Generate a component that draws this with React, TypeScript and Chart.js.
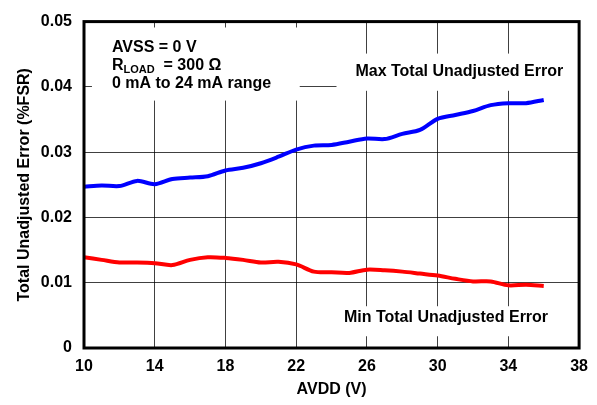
import React, { useEffect, useRef } from "react";
import { Chart, registerables } from "chart.js";

Chart.register(...registerables);

const avdd = [10, 11, 12, 13, 14, 15, 16, 17, 18, 19, 20, 21, 22, 23, 24, 25, 26, 27, 28, 29, 30, 31, 32, 33, 34, 35, 36];
const maxTue = [0.0247, 0.0249, 0.0248, 0.0256, 0.0251, 0.0259, 0.0261, 0.0263, 0.0272, 0.0276, 0.0283, 0.0293, 0.0304, 0.0310, 0.0311, 0.0316, 0.0321, 0.0320, 0.0328, 0.0334, 0.0351, 0.0357, 0.0363, 0.0372, 0.0375, 0.0375, 0.0380];
const minTue = [0.0139, 0.0135, 0.0131, 0.0131, 0.0130, 0.0127, 0.0135, 0.0139, 0.0138, 0.0135, 0.0131, 0.0132, 0.0128, 0.0117, 0.0116, 0.0115, 0.0120, 0.0119, 0.0117, 0.0114, 0.0111, 0.0106, 0.0102, 0.0102, 0.0096, 0.0097, 0.0095];
const xTickStep = 4;
const yTickStep = 0.01;

const FONT = "'Liberation Sans', Arial, Helvetica, sans-serif";

const annotationPlugin = {
  id: "tueAnnotations",
  beforeDatasetsDraw(chart: any) {
    const { ctx, scales } = chart;
    const x = scales.x;
    const y = scales.y;
    const box = (x0: number, x1: number, y0: number, y1: number) => {
      const px0 = x.getPixelForValue(x0);
      const px1 = x.getPixelForValue(x1);
      const py0 = y.getPixelForValue(y0);
      const py1 = y.getPixelForValue(y1);
      ctx.fillStyle = "#ffffff";
      ctx.fillRect(px0, py0, px1 - px0, py1 - py0);
    };
    ctx.save();
    box(10.45, 22.2, 0.0491, 0.0379);
    box(24.28, 38, 0.0451, 0.0394);
    box(23.9, 38, 0.0064, 0.0018);

    ctx.fillStyle = "#000000";
    ctx.textBaseline = "middle";
    ctx.textAlign = "left";
    const bold = (s: number) => `bold ${s}px ${FONT}`;
    ctx.font = bold(16);
    const tx = x.getPixelForValue(11.58);
    ctx.fillText("AVSS = 0 V", tx, y.getPixelForValue(0.046));
    const ry = y.getPixelForValue(0.0432);
    ctx.fillText("R", tx, ry);
    const rw = ctx.measureText("R").width;
    ctx.font = bold(11);
    ctx.fillText("LOAD", tx + rw, ry + 4);
    const lw = ctx.measureText("LOAD").width;
    ctx.font = bold(16);
    ctx.fillText("  = 300 Ω", tx + rw + lw, ry);
    ctx.fillText("0 mA to 24 mA range", tx, y.getPixelForValue(0.0405));

    ctx.fillText("Max Total Unadjusted Error", x.getPixelForValue(25.35), y.getPixelForValue(0.0424));
    ctx.fillText("Min Total Unadjusted Error", x.getPixelForValue(24.7), y.getPixelForValue(0.0046));
    ctx.restore();
  },
  afterDatasetsDraw(chart: any) {
    const { ctx, chartArea } = chart;
    ctx.save();
    ctx.strokeStyle = "#000000";
    ctx.lineWidth = 3;
    ctx.strokeRect(chartArea.left, chartArea.top, chartArea.right - chartArea.left, chartArea.bottom - chartArea.top);
    ctx.restore();
  },
};

export default function App() {
  const ref = useRef<HTMLCanvasElement | null>(null);
  useEffect(() => {
    if (!ref.current) return;
    const chart = new Chart(ref.current, {
      type: "line",
      data: {
        labels: avdd,
        datasets: [
          {
            label: "Max Total Unadjusted Error",
            data: avdd.map((v, i) => ({ x: v, y: maxTue[i] })),
            borderColor: "#0000ff",
            backgroundColor: "#0000ff",
            borderWidth: 4,
            pointRadius: 0,
            tension: 0.3,
          },
          {
            label: "Min Total Unadjusted Error",
            data: avdd.map((v, i) => ({ x: v, y: minTue[i] })),
            borderColor: "#ff0000",
            backgroundColor: "#ff0000",
            borderWidth: 4,
            pointRadius: 0,
            tension: 0.3,
          },
        ],
      },
      options: {
        responsive: false,
        animation: false,
        layout: { padding: { top: 12, right: 17, left: 0, bottom: 0 } },
        plugins: { legend: { display: false }, tooltip: { enabled: false } },
        scales: {
          x: {
            type: "linear",
            min: 10,
            max: 38,
            ticks: {
              stepSize: xTickStep,
              color: "#000",
              font: { family: FONT, weight: "bold", size: 16 },
              padding: 9,
              maxRotation: 0,
            },
            grid: { color: "rgba(0,0,0,0.75)", lineWidth: 1, drawTicks: false },
            border: { display: false },
            title: {
              display: true,
              text: "AVDD (V)",
              color: "#000",
              font: { family: FONT, weight: "bold", size: 16 },
              padding: { top: 0, bottom: 6 },
            },
            afterFit: (scale: any) => {
              scale.height = 57;
            },
          },
          y: {
            min: 0,
            max: 0.05,
            ticks: {
              stepSize: yTickStep,
              color: "#000",
              font: { family: FONT, weight: "bold", size: 16 },
              padding: 12,
              callback: (v: any) => (Number(v) === 0 ? "0" : Number(v).toFixed(2)),
            },
            grid: { color: "rgba(0,0,0,0.75)", lineWidth: 1, drawTicks: false },
            border: { display: false },
            title: {
              display: true,
              text: "Total Unadjusted Error (%FSR)",
              color: "#000",
              font: { family: FONT, weight: "bold", size: 16 },
              padding: { top: 15, bottom: 0 },
            },
            afterFit: (scale: any) => {
              scale.width = 84;
            },
          },
        },
      },
      plugins: [annotationPlugin],
    });
    return () => chart.destroy();
  }, []);
  return (
    <div style={{ position: "absolute", left: 0, top: 0, width: 597, height: 405, background: "#fff" }}>
      <canvas ref={ref} width={597} height={405} style={{ display: "block", width: 597, height: 405 }} />
    </div>
  );
}
